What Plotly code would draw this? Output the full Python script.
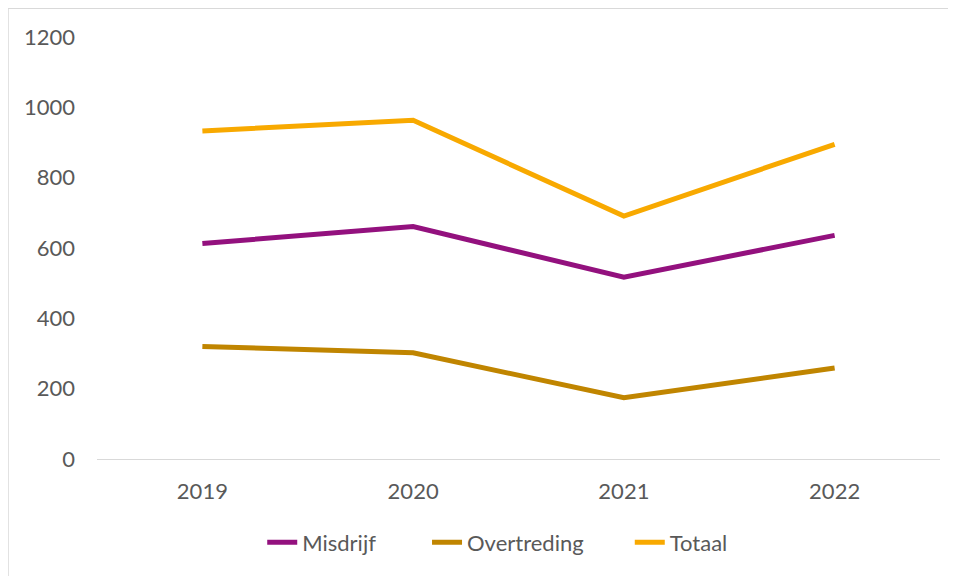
import plotly.graph_objects as go

years = ["2019", "2020", "2021", "2022"]

misdrijf = [613, 661, 517, 636]
overtreding = [320, 302, 174, 259]
totaal = [933, 963, 691, 895]

series = [
    ("Misdrijf", misdrijf, "#93117E", "legend", 0.196),
    ("Overtreding", overtreding, "#C08500", "legend2", 0.3915),
    ("Totaal", totaal, "#F8A900", "legend3", 0.632),
]

fig = go.Figure()

legends = {}

for name, values, color, leg, lx in series:
    fig.add_trace(
        go.Scatter(
            x=years,
            y=values,
            name=name,
            mode="lines",
            line=dict(color=color, width=5),
            legend=leg
        )
    )
    legends[leg] = dict(
        x=lx,
        xanchor="left",
        y=-0.198,
        yanchor="middle",
        font=dict(size=22, color="#595959"),
        bgcolor="rgba(0,0,0,0)"
    )

# page body adds 8px, so the figure is 948x568
fig.update_layout(
    width=948,
    height=568,
    margin=dict(l=89, r=16, t=29, b=115),
    paper_bgcolor="white",
    plot_bgcolor="white",
    font=dict(family="Lato, sans-serif", size=22, color="#595959"),
    showlegend=True,
    **legends,
    xaxis=dict(
        type="category",
        range=[-0.5, 3.5],
        showgrid=False,
        showline=True,
        linecolor="#D9D9D9",
        linewidth=1,
        ticks="",
        ticklabelstandoff=13
    ),
    yaxis=dict(
        range=[0, 1200],
        tickvals=[0, 200, 400, 600, 800, 1000, 1200],
        showgrid=False,
        zeroline=False,
        showline=False,
        ticks="",
        ticklabelstandoff=21
    ),
    shapes=[
        dict(
            type="rect",
            xref="paper",
            yref="paper",
            x0=-89 / 843,
            x1=(948 - 89) / 843 + 0.02,
            y0=-0.4,
            y1=453 / 424,
            line=dict(color="#D9D9D9", width=1.5),
            fillcolor="rgba(0,0,0,0)",
            layer="below"
        )
    ]
)

fig.write_html("out.html")
